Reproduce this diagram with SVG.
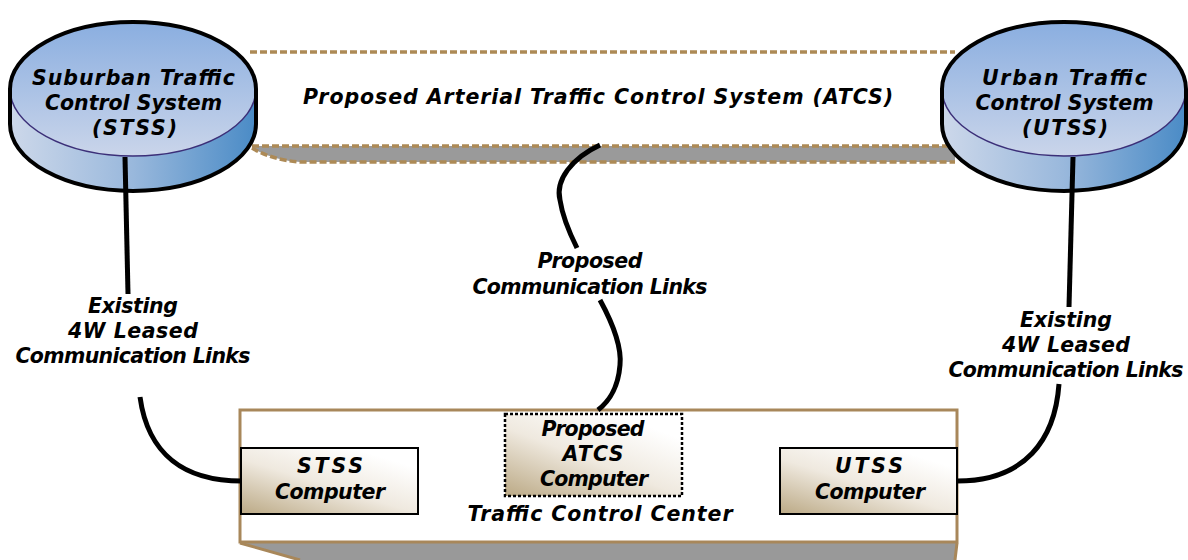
<svg xmlns="http://www.w3.org/2000/svg" width="1188" height="560" viewBox="0 0 1188 560">
<defs>
<linearGradient id="capTop" x1="0" y1="0" x2="0" y2="1">
<stop offset="0" stop-color="#8aaee0"/>
<stop offset="1" stop-color="#cad5ea"/>
</linearGradient>
<linearGradient id="capSide" x1="0" y1="0" x2="1" y2="0">
<stop offset="0" stop-color="#cdd8ea"/>
<stop offset="0.5" stop-color="#99b8dc"/>
<stop offset="1" stop-color="#4a8bc6"/>
</linearGradient>
<linearGradient id="comp" x1="0" y1="1" x2="0.75" y2="0.1">
<stop offset="0" stop-color="#bba985"/>
<stop offset="0.55" stop-color="#efe9df"/>
<stop offset="1" stop-color="#ffffff"/>
</linearGradient>
<style>
.t{font-family:"DejaVu Sans","Liberation Sans",sans-serif;font-weight:bold;font-style:italic;font-size:20.5px;fill:#000;text-anchor:middle}
.dash{fill:none;stroke:#ad8a56;stroke-width:3.5;stroke-dasharray:7 3}
.outline{fill:none;stroke:#000;stroke-width:4}
.rim{fill:none;stroke:#3b2f78;stroke-width:1.5}
.link{fill:none;stroke:#000;stroke-width:5}
.compbox{fill:url(#comp);stroke:#000;stroke-width:2}
</style>
</defs>

<g id="atcs-band">
<rect x="250" y="52" width="705" height="94" fill="#fff"/>
<path d="M252,146 L955,146 L955,162 L300,162 Q272,160 252,148 Z" fill="#9a9a9a"/>
<path class="dash" d="M250,52 L955,52"/>
<path class="dash" d="M252,146 L955,146"/>
<path class="dash" d="M252,148 Q272,160 300,162 L955,162"/>
<text class="t" x="598" y="104" textLength="590" lengthAdjust="spacing">Proposed Arterial Traffic Control System (ATCS)</text>
</g>

<g id="stss-system">
<path d="M10,89 A123,67 0 0 0 256,89 L256,124 A123,67 0 0 1 10,124 Z" fill="url(#capSide)"/>
<ellipse cx="133" cy="89" rx="123" ry="67" fill="url(#capTop)"/>
<path class="rim" d="M10,89 A123,67 0 0 0 256,89"/>
<path class="outline" d="M10,89 A123,67 0 0 1 256,89 L256,124 A123,67 0 0 1 10,124 Z"/>
<text class="t" x="133.5" y="85" textLength="203" lengthAdjust="spacing">Suburban Traffic</text>
<text class="t" x="133.5" y="110" textLength="177" lengthAdjust="spacing">Control System</text>
<text class="t" x="134.5" y="135" textLength="85" lengthAdjust="spacing">(STSS)</text>
</g>

<g id="utss-system">
<path d="M942,89 A122,67 0 0 0 1186,89 L1186,124 A122,67 0 0 1 942,124 Z" fill="url(#capSide)"/>
<ellipse cx="1064" cy="89" rx="122" ry="67" fill="url(#capTop)"/>
<path class="rim" d="M942,89 A122,67 0 0 0 1186,89"/>
<path class="outline" d="M942,89 A122,67 0 0 1 1186,89 L1186,124 A122,67 0 0 1 942,124 Z"/>
<text class="t" x="1064.5" y="85" textLength="165" lengthAdjust="spacing">Urban Traffic</text>
<text class="t" x="1064.5" y="110" textLength="178" lengthAdjust="spacing">Control System</text>
<text class="t" x="1065" y="135" textLength="86" lengthAdjust="spacing">(UTSS)</text>
</g>

<g id="traffic-control-center">
<path d="M240,543 L957,543 L955,560 L300,560 Z" fill="#999"/>
<path d="M240,543 L300,560 M957,543 L955,560" fill="none" stroke="#a8875a" stroke-width="3"/>
<rect x="240" y="410" width="717" height="132" fill="#fff" stroke="#a8875a" stroke-width="3"/>
<text class="t" x="600" y="521" textLength="265" lengthAdjust="spacing">Traffic Control Center</text>
</g>

<g id="stss-computer">
<rect class="compbox" x="241" y="448" width="177" height="66"/>
<text class="t" x="330" y="473" textLength="66" lengthAdjust="spacing">STSS</text>
<text class="t" x="330" y="499" textLength="110" lengthAdjust="spacing">Computer</text>
</g>

<g id="atcs-computer">
<rect x="505" y="414" width="177" height="82" fill="url(#comp)" stroke="#000" stroke-width="2.5" stroke-dasharray="3 2"/>
<text class="t" x="593" y="436" textLength="103" lengthAdjust="spacing">Proposed</text>
<text class="t" x="593" y="461" textLength="61" lengthAdjust="spacing">ATCS</text>
<text class="t" x="594" y="486" textLength="108" lengthAdjust="spacing">Computer</text>
</g>

<g id="utss-computer">
<rect class="compbox" x="780" y="448" width="177" height="66"/>
<text class="t" x="869" y="473" textLength="68" lengthAdjust="spacing">UTSS</text>
<text class="t" x="870" y="499" textLength="110" lengthAdjust="spacing">Computer</text>
</g>

<g id="connectors">
<path class="link" d="M125,157 L128,294"/>
<path class="link" d="M140,397 C148,455 185,481 242,481"/>
<path class="link" d="M1073,157 L1069,307"/>
<path class="link" d="M1059,384 C1055,440 1025,481 957,481"/>
<path class="link" d="M600,145 C572,158 555,180 560,200 C563,220 572,238 577,248"/>
<path class="link" d="M600,300 C612,322 622,345 620,365 C618,390 608,402 598,410"/>
<g id="connector-labels">
<text class="t" x="133" y="313" textLength="90" lengthAdjust="spacing">Existing</text>
<text class="t" x="133" y="338" textLength="130" lengthAdjust="spacing">4W Leased</text>
<text class="t" x="133" y="363" textLength="235" lengthAdjust="spacing">Communication Links</text>
<text class="t" x="1066" y="327" textLength="92" lengthAdjust="spacing">Existing</text>
<text class="t" x="1066" y="352" textLength="128" lengthAdjust="spacing">4W Leased</text>
<text class="t" x="1066" y="377" textLength="235" lengthAdjust="spacing">Communication Links</text>
<text class="t" x="590" y="268" textLength="105" lengthAdjust="spacing">Proposed</text>
<text class="t" x="590" y="294" textLength="235" lengthAdjust="spacing">Communication Links</text>
</g>
</g>
</svg>
